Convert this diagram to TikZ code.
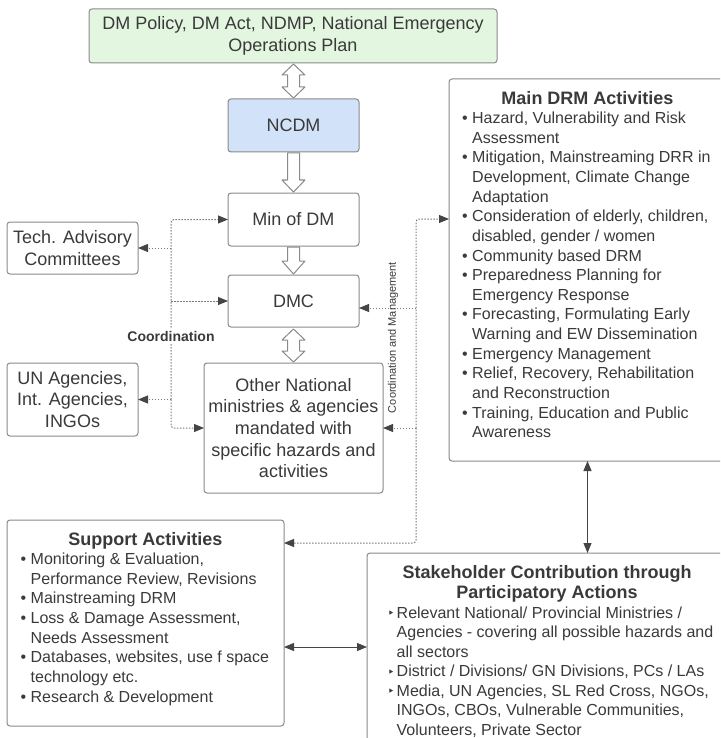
\documentclass[tikz,border=0pt]{standalone}
\usepackage{fontspec}
\setmainfont{Liberation Sans}
\newfontfamily\dejavu{DejaVu Sans}
\usetikzlibrary{arrows.meta}
\definecolor{txt}{HTML}{3A3A3A}
\definecolor{bord}{HTML}{8A8A8A}
\definecolor{greenf}{HTML}{E3F6E0}
\definecolor{bluef}{HTML}{D2E2F8}
\definecolor{dotc}{HTML}{7A7A7A}
\definecolor{arr}{HTML}{454545}
\newcommand\bullt{\makebox[10pt][l]{•}}
\newcommand\indt{\hspace*{10pt}}
\newcommand\trib{\makebox[9pt][l]{\raisebox{0.5pt}{\dejavu\fontsize{12}{12}\selectfont ‣}}}
\newcommand\indtr{\hspace*{9pt}}
\begin{document}
\begin{tikzpicture}[x=1pt,y=-1pt,
  box/.style={draw=bord, line width=1pt, rounded corners=3pt, fill=white, inner sep=0pt, outer sep=0pt, text=txt, align=center, font=\fontsize{18}{21.7}\selectfont},
  dotl/.style={draw=dotc, line width=1pt, dash pattern=on 1.5pt off 1.5pt, -{Triangle[length=10pt,width=8pt,color=arr]}},
  hollow/.style={draw=bord, line width=1pt, fill=white, line join=round},
  solidarr/.style={draw=arr, line width=1pt, {Triangle[length=10pt,width=8pt]}-{Triangle[length=10pt,width=8pt]}},
  ttl/.style={anchor=base, text=txt, font=\fontsize{18}{20.5}\selectfont\bfseries, inner sep=0pt},
  lst/.style={anchor=base west, text=txt, inner sep=0pt, font=\fontsize{16}{19.65}\selectfont},
]
\useasboundingbox (0,0) rectangle (720,738);
\clip (0,0) rectangle (720,738);

% main column
\node[box, fill=greenf, minimum width=408pt, minimum height=54pt] (policy) at (293,36) {DM Policy, DM Act, NDMP, National Emergency\\Operations Plan};
\node[box, fill=bluef, minimum width=131pt, minimum height=53pt] (ncdm) at (293.5,125.5) {NCDM};
\node[box, minimum width=131pt, minimum height=53pt] (min) at (293.5,219.5) {Min of DM};
\node[box, minimum width=131pt, minimum height=52pt] (dmc) at (293.5,301) {DMC};
\node[box, minimum width=179pt, minimum height=130pt] (other) at (293.5,428) {Other National\\ministries \& agencies\\mandated with\\specific hazards and\\activities};
\node[box, minimum width=131pt, minimum height=52pt] (tech) at (72.5,248) {Tech. Advisory\\Committees};
\node[box, minimum width=131pt, minimum height=73pt] (un) at (72.5,399.5) {UN Agencies,\\Int. Agencies,\\INGOs};

% big boxes
\node[box, minimum width=277pt, minimum height=382pt] (main) at (587.5,270) {};
\node[box, minimum width=277pt, minimum height=206pt] (support) at (145.5,623) {};
\node[box, minimum width=360pt, minimum height=207pt] (stake) at (547,656.5) {};

% hollow arrows
\draw[hollow, shift={(ncdm.north)}] (0,-35) -- (11.5,-24) -- (6,-24) -- (6,-12) -- (11.5,-12) -- (0,-1) -- (-11.5,-12) -- (-6,-12) -- (-6,-24) -- (-11.5,-24) -- cycle;
\draw[hollow, shift={(ncdm.south)}] (-6,1) -- (6,1) -- (6,28) -- (11.5,28) -- (0,40) -- (-11.5,28) -- (-6,28) -- cycle;
\draw[hollow, shift={(min.south)}] (-6,1) -- (6,1) -- (6,15) -- (11.5,15) -- (0,28) -- (-11.5,15) -- (-6,15) -- cycle;
\draw[hollow, shift={(dmc.south)}] (0,2) -- (11.5,13) -- (6,13) -- (6,24) -- (11.5,24) -- (0,35) -- (-11.5,24) -- (-6,24) -- (-6,13) -- (-11.5,13) -- cycle;

% left coordination network
\coordinate (lx) at (171,0);
\draw[dotl, rounded corners=3pt] (lx |- un.east) -- (lx |- min.west) -- (min.west);
\draw[dotl, rounded corners=3pt] (lx |- un.east) -- (lx |- other.west) -- (other.west);
\draw[dotl] (lx |- tech.east) -- (tech.east);
\draw[dotl] (lx |- dmc.west) -- (dmc.west);
\draw[dotl] (lx |- un.east) -- (un.east);
\node[font=\fontsize{14}{16}\selectfont\bfseries, text=txt, fill=white, inner sep=1.5pt] (coord) at (171,336) {Coordination};

% right coordination network
\coordinate (rx) at (416,0);
\coordinate (mt) at (416,219);
\coordinate (sb) at (416,543);
\coordinate (rd) at (416,308);
\draw[dotl, rounded corners=3pt] (rx |- other.east) -- (mt) -- (main.west |- mt);
\draw[dotl, rounded corners=3pt] (rx |- other.east) -- (sb) -- (support.east |- sb);
\draw[dotl] (rd) -- (dmc.east |- rd);
\draw[dotl] (rx |- other.east) -- (other.east);
\node[rotate=90, font=\fontsize{11}{13}\selectfont, text=txt, inner sep=0pt] (cm) at (393,337.5) {Coordination and Management};

% solid arrows
\coordinate (ss) at (320,647);
\draw[solidarr] (main.south) -- (main.south |- stake.north);
\draw[solidarr] (support.east |- ss) -- (stake.west |- ss);

% Main DRM text
\node[ttl] (maint) at (587.5,104.5) {Main DRM Activities};
\node[lst] (mainl) at (462,123.5) {\begin{tabular}[t]{@{}l@{}}
\bullt Hazard, Vulnerability and Risk\\
\indt Assessment\\
\bullt Mitigation, Mainstreaming DRR in\\
\indt Development, Climate Change\\
\indt Adaptation\\
\bullt Consideration of elderly, children,\\
\indt disabled, gender / women\\
\bullt Community based DRM\\
\bullt Preparedness Planning for\\
\indt Emergency Response\\
\bullt Forecasting, Formulating Early\\
\indt Warning and EW Dissemination\\
\bullt Emergency Management\\
\bullt Relief, Recovery, Rehabilitation\\
\indt and Reconstruction\\
\bullt Training, Education and Public\\
\indt Awareness
\end{tabular}};

% Support text
\node[ttl] (supt) at (145.5,545.5) {Support Activities};
\node[lst] (supl) at (20.5,564.5) {\begin{tabular}[t]{@{}l@{}}
\bullt Monitoring \& Evaluation,\\
\indt Performance Review, Revisions\\
\bullt Mainstreaming DRM\\
\bullt Loss \& Damage Assessment,\\
\indt Needs Assessment\\
\bullt Databases, websites, use f space\\
\indt technology etc.\\
\bullt Research \& Development
\end{tabular}};

% Stakeholder text
\node[ttl, align=center] (stt) at (547,598.5) {Stakeholder Contribution through\\Participatory Actions};
\node[lst, font=\fontsize{16}{19.5}\selectfont] (stl) at (387.5,618) {\begin{tabular}[t]{@{}l@{}}
\trib Relevant National/ Provincial Ministries /\\
\indtr Agencies - covering all possible hazards and\\
\indtr all sectors\\
\trib District / Divisions/ GN Divisions, PCs / LAs\\
\trib Media, UN Agencies, SL Red Cross, NGOs,\\
\indtr INGOs, CBOs, Vulnerable Communities,\\
\indtr Volunteers, Private Sector
\end{tabular}};
\end{tikzpicture}
\end{document}
